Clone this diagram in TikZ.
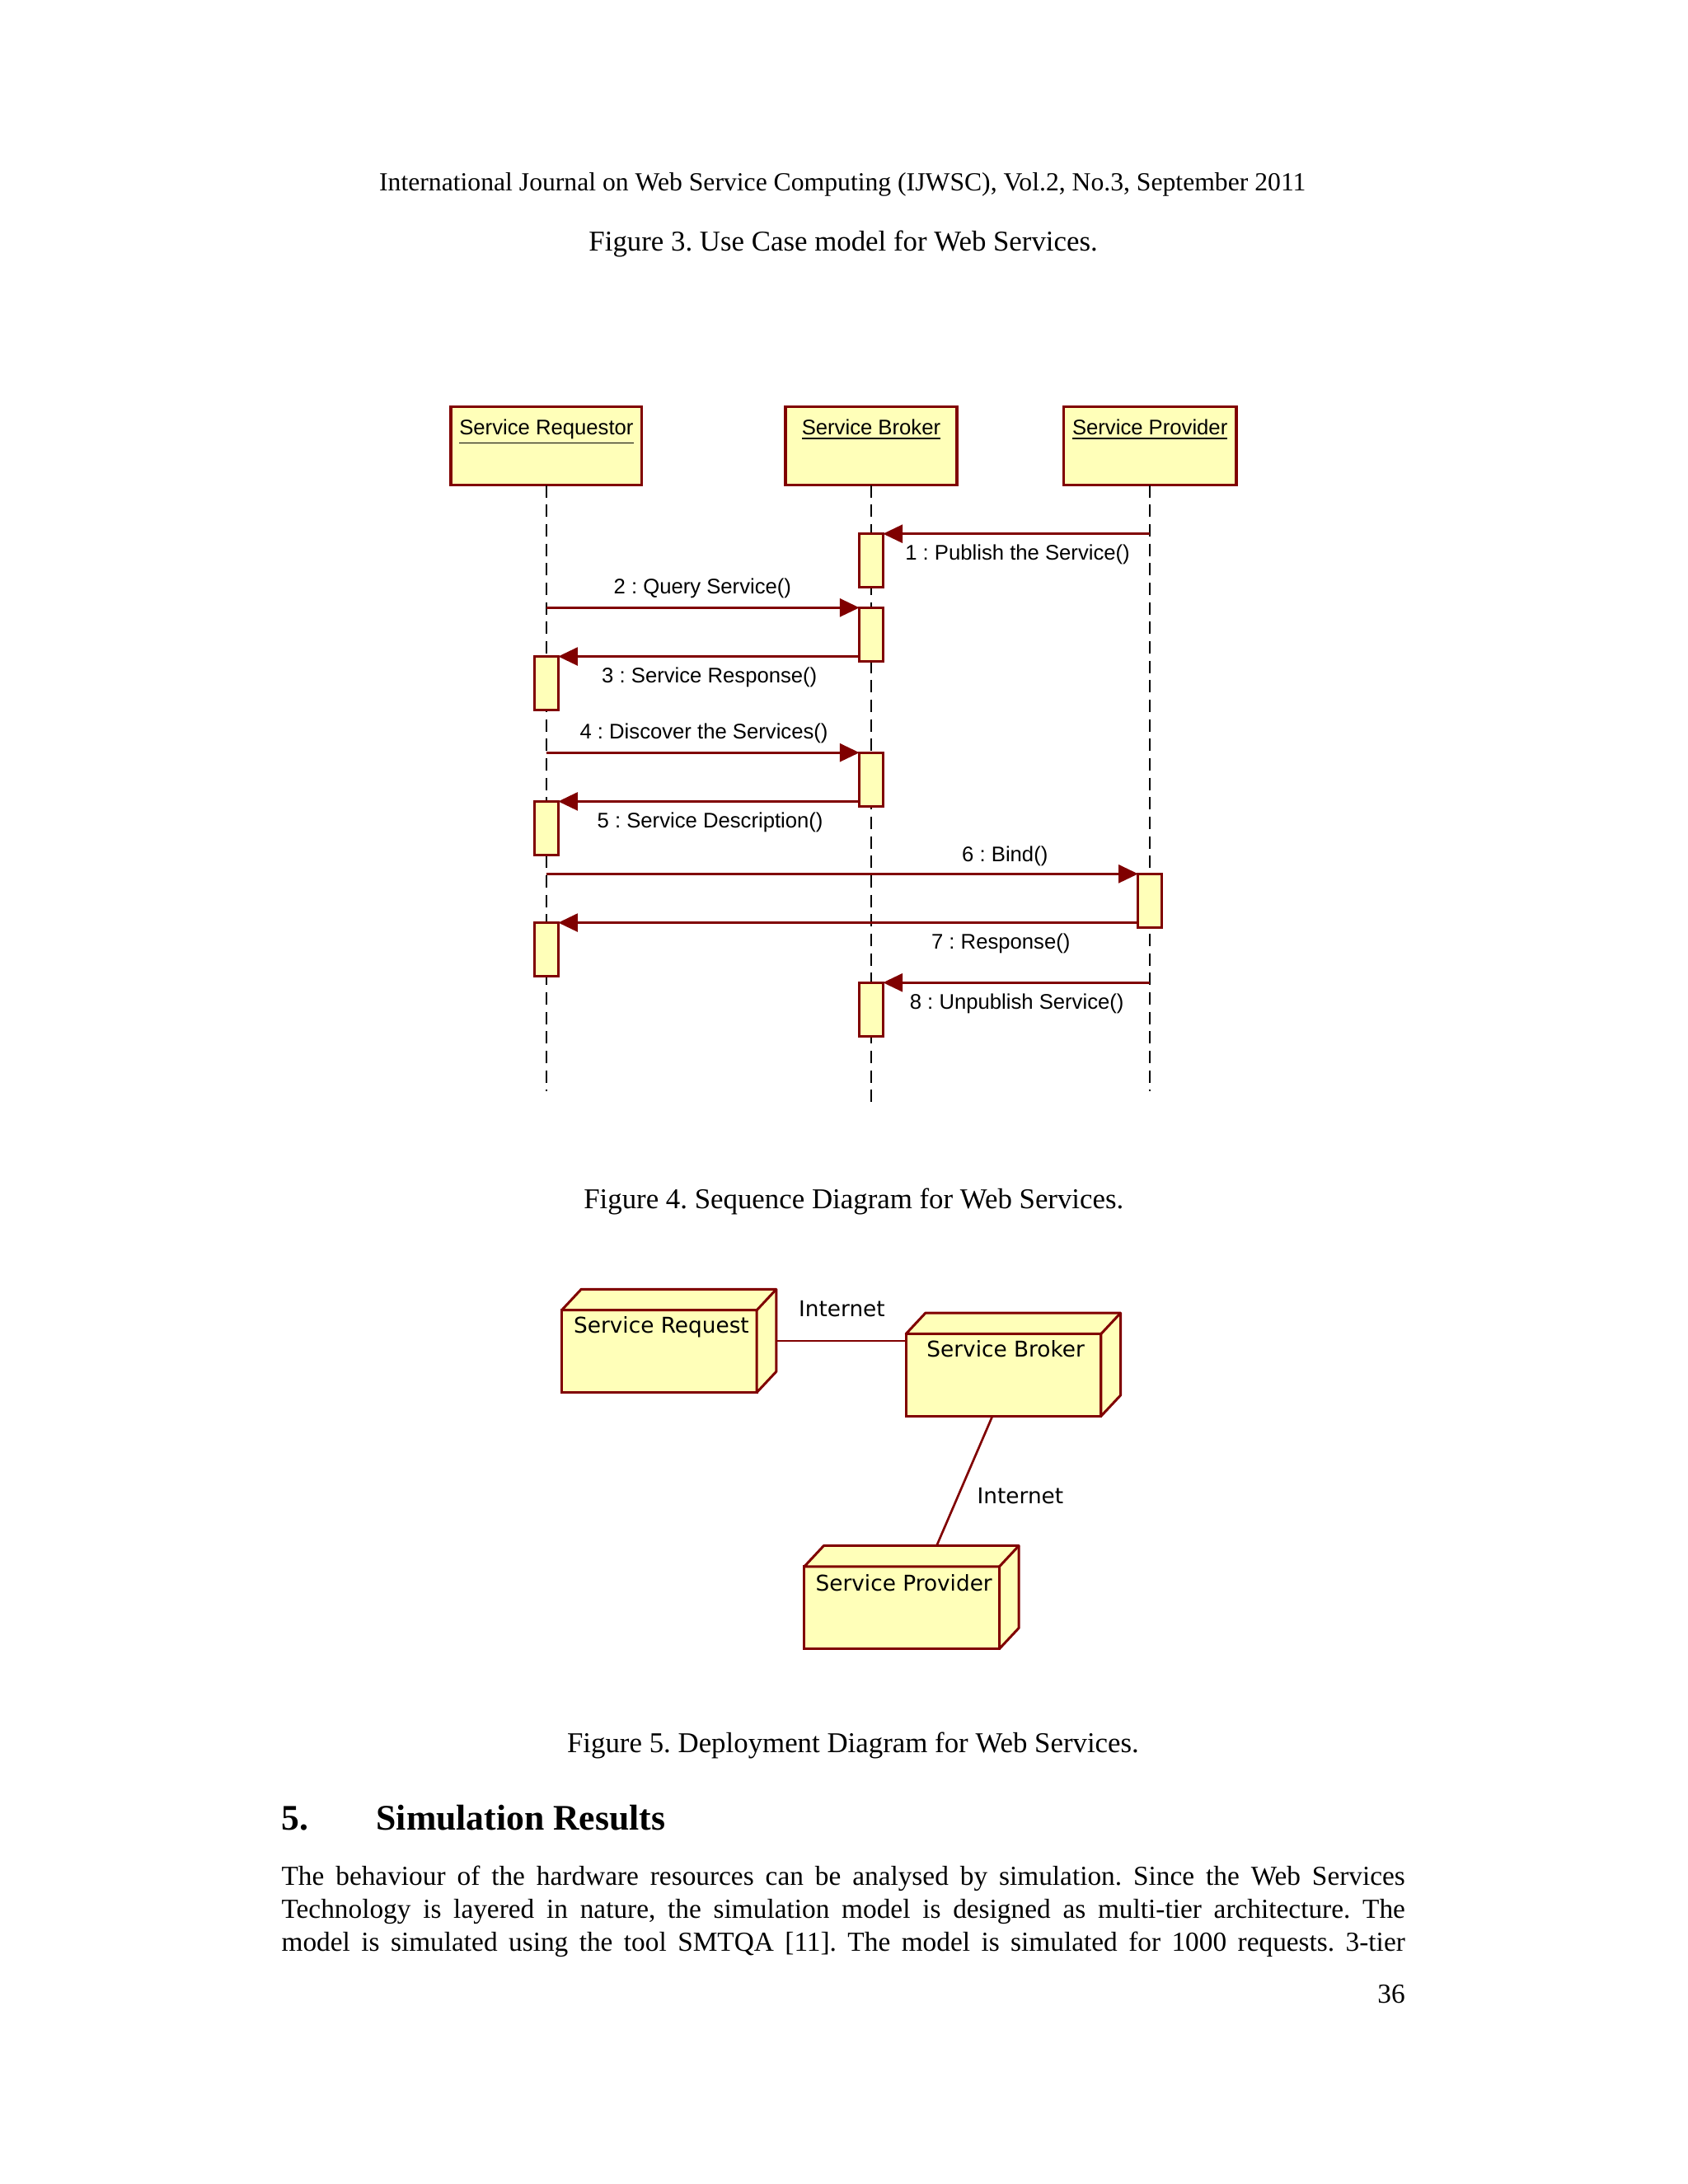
\documentclass[tikz,border=0pt]{standalone}
\usepackage{fontspec}
\setmainfont{Liberation Serif}
\newfontfamily\seqfont{Liberation Sans}
\newfontfamily\depfont{DejaVu Sans}
\usetikzlibrary{arrows.meta}
\definecolor{umlred}{RGB}{128,0,0}
\definecolor{umlfill}{RGB}{255,255,185}
\frenchspacing
\begin{document}
\begin{tikzpicture}[x=0.50727pt,y=-0.50727pt,
  every node/.style={inner sep=0pt,outer sep=0pt},
  headbox/.style={draw=umlred,fill=umlfill,line width=1pt,minimum height=28.41pt},
  headlabel/.style={font=\seqfont\fontsize{7.7}{9}\selectfont,text height=6pt,text depth=2.2pt},
  actbar/.style={draw=umlred,fill=umlfill,line width=0.9pt,minimum width=8.62pt,minimum height=19.5pt,anchor=north},
  lifeline/.style={draw=black,line width=0.6pt,dash pattern=on 4.5pt off 2.6pt},
  msg/.style={draw=umlred,line width=0.8pt,-{Triangle[length=7.1pt,width=6.6pt]}},
  msglabel/.style={font=\seqfont\fontsize{7.7}{9}\selectfont},
  depbox/.style={draw=umlred,fill=umlfill,line width=0.9pt,anchor=north west,minimum width=71.0pt,minimum height=29.93pt},
  depface/.style={draw=umlred,fill=umlfill,line width=0.9pt,line join=round},
  deplabel/.style={font=\depfont\fontsize{7.9}{9.5}\selectfont},
  conn/.style={draw=umlred,line width=0.8pt},
  pagetext/.style={font=\fontsize{9.5}{11.5}\selectfont},
  captext/.style={font=\fontsize{10.45}{12.5}\selectfont}
]
\useasboundingbox (0,0) rectangle (1211,1567);

% ---------- page texts ----------
\node[pagetext] (hdr) at (604.5,132.5) {International Journal on Web Service Computing (IJWSC), Vol.2, No.3, September 2011};
\node[captext] (cap3) at (605,175) {Figure 3. Use Case model for Web Services.};
\node[captext] (cap4) at (612.5,862) {Figure 4. Sequence Diagram for Web Services.};
\node[captext] (cap5) at (612,1252.5) {Figure 5. Deployment Diagram for Web Services.};
\node[anchor=west,font=\bfseries\fontsize{13.1}{15}\selectfont] (secnum) at (202,1304.5) {5.};
\node[anchor=west,font=\bfseries\fontsize{13.1}{15}\selectfont] (sectitle) at (270,1304.5) {Simulation Results};
\node[anchor=north west,font=\fontsize{10}{11.9}\selectfont] (body) at (202,1339)
 {\parbox{408.9pt}{\fontsize{10}{11.9}\selectfont\parfillskip=0pt\parindent=0pt The behaviour of the hardware resources can be analysed by simulation. Since the Web Services\linebreak
 Technology is layered in nature, the simulation model is designed as multi-tier architecture. The\linebreak
 model is simulated using the tool SMTQA [11]. The model is simulated for 1000 requests. 3-tier}};
\node[anchor=east,font=\fontsize{10}{12}\selectfont] (pgnum) at (1008,1431) {36};

% ---------- sequence diagram ----------
\node[headbox,minimum width=69.5pt] (headR) at (392,320) {};
\node[headbox,minimum width=62.4pt] (headB) at (625,320) {};
\node[headbox,minimum width=62.9pt] (headP) at (825,320) {};
\node[headlabel] (lR) at (392,308) {\underline{Service Requestor}};
\node[headlabel] (lB) at (625,308) {\underline{Service Broker}};
\node[headlabel] (lP) at (825,308) {\underline{Service Provider}};

\coordinate (endR) at (392,783);
\coordinate (endB) at (625,795);
\coordinate (endP) at (825,783);
\draw[lifeline] (headR.south) -- (endR);
\draw[lifeline] (headB.south) -- (endB);
\draw[lifeline] (headP.south) -- (endP);

\node[actbar] (bB1) at (625,383) {};
\node[actbar] (bB2) at (625,436) {};
\node[actbar] (bR1) at (392,471) {};
\node[actbar] (bB3) at (625,540) {};
\node[actbar] (bR2) at (392,575) {};
\node[actbar] (bP1) at (825,627) {};
\node[actbar] (bR3) at (392,662) {};
\node[actbar] (bB4) at (625,705) {};

\draw[msg] (headP.south |- bB1.north) -- (bB1.north east);
\draw[msg] (headR.south |- bB2.north) -- (bB2.north west);
\draw[msg] (bB2.west |- bR1.north) -- (bR1.north east);
\draw[msg] (headR.south |- bB3.north) -- (bB3.north west);
\draw[msg] (bB3.west |- bR2.north) -- (bR2.north east);
\draw[msg] (headR.south |- bP1.north) -- (bP1.north west);
\draw[msg] (bP1.west |- bR3.north) -- (bR3.north east);
\draw[msg] (headP.south |- bB4.north) -- (bB4.north east);

\node[msglabel] (m1) at (730,398) {1 : Publish the Service()};
\node[msglabel] (m2) at (504,422) {2 : Query Service()};
\node[msglabel] (m3) at (509,486) {3 : Service Response()};
\node[msglabel] (m4) at (505,526) {4 : Discover the Services()};
\node[msglabel] (m5) at (509.5,590) {5 : Service Description()};
\node[msglabel] (m6) at (721,614) {6 : Bind()};
\node[msglabel] (m7) at (718,677) {7 : Response()};
\node[msglabel] (m8) at (729.5,720) {8 : Unpublish Service()};

% ---------- deployment diagram ----------
\node[depbox] (nReq) at (403,940) {};
\draw[depface] (nReq.north west) -- ++(14,-15) -- ++(140,0) -- ++(0,59) -- (nReq.south east) -- (nReq.north east) -- cycle;
\draw[depface] (nReq.north east) -- ++(14,-15);
\node[depbox] (nBrk) at (650,957) {};
\draw[depface] (nBrk.north west) -- ++(14,-15) -- ++(140,0) -- ++(0,59) -- (nBrk.south east) -- (nBrk.north east) -- cycle;
\draw[depface] (nBrk.north east) -- ++(14,-15);
\node[depbox] (nPrv) at (577,1124) {};
\draw[depface] (nPrv.north west) -- ++(14,-15) -- ++(140,0) -- ++(0,59) -- (nPrv.south east) -- (nPrv.north east) -- cycle;
\draw[depface] (nPrv.north east) -- ++(14,-15);

\node[deplabel] (tReq) at (474.5,952) {Service Request};
\node[deplabel] (tBrk) at (721.5,968) {Service Broker};
\node[deplabel] (tPrv) at (648.5,1136) {Service Provider};

\coordinate (reqSide) at (557,962);
\coordinate (brkBot) at (712,1016);
\coordinate (prvTop) at (672,1109);
\draw[conn] (reqSide) -- (reqSide -| nBrk.west);
\draw[conn] (brkBot) -- (prvTop);
\node[deplabel] (i1) at (604,939) {Internet};
\node[deplabel] (i2) at (732,1073) {Internet};
\end{tikzpicture}
\end{document}
